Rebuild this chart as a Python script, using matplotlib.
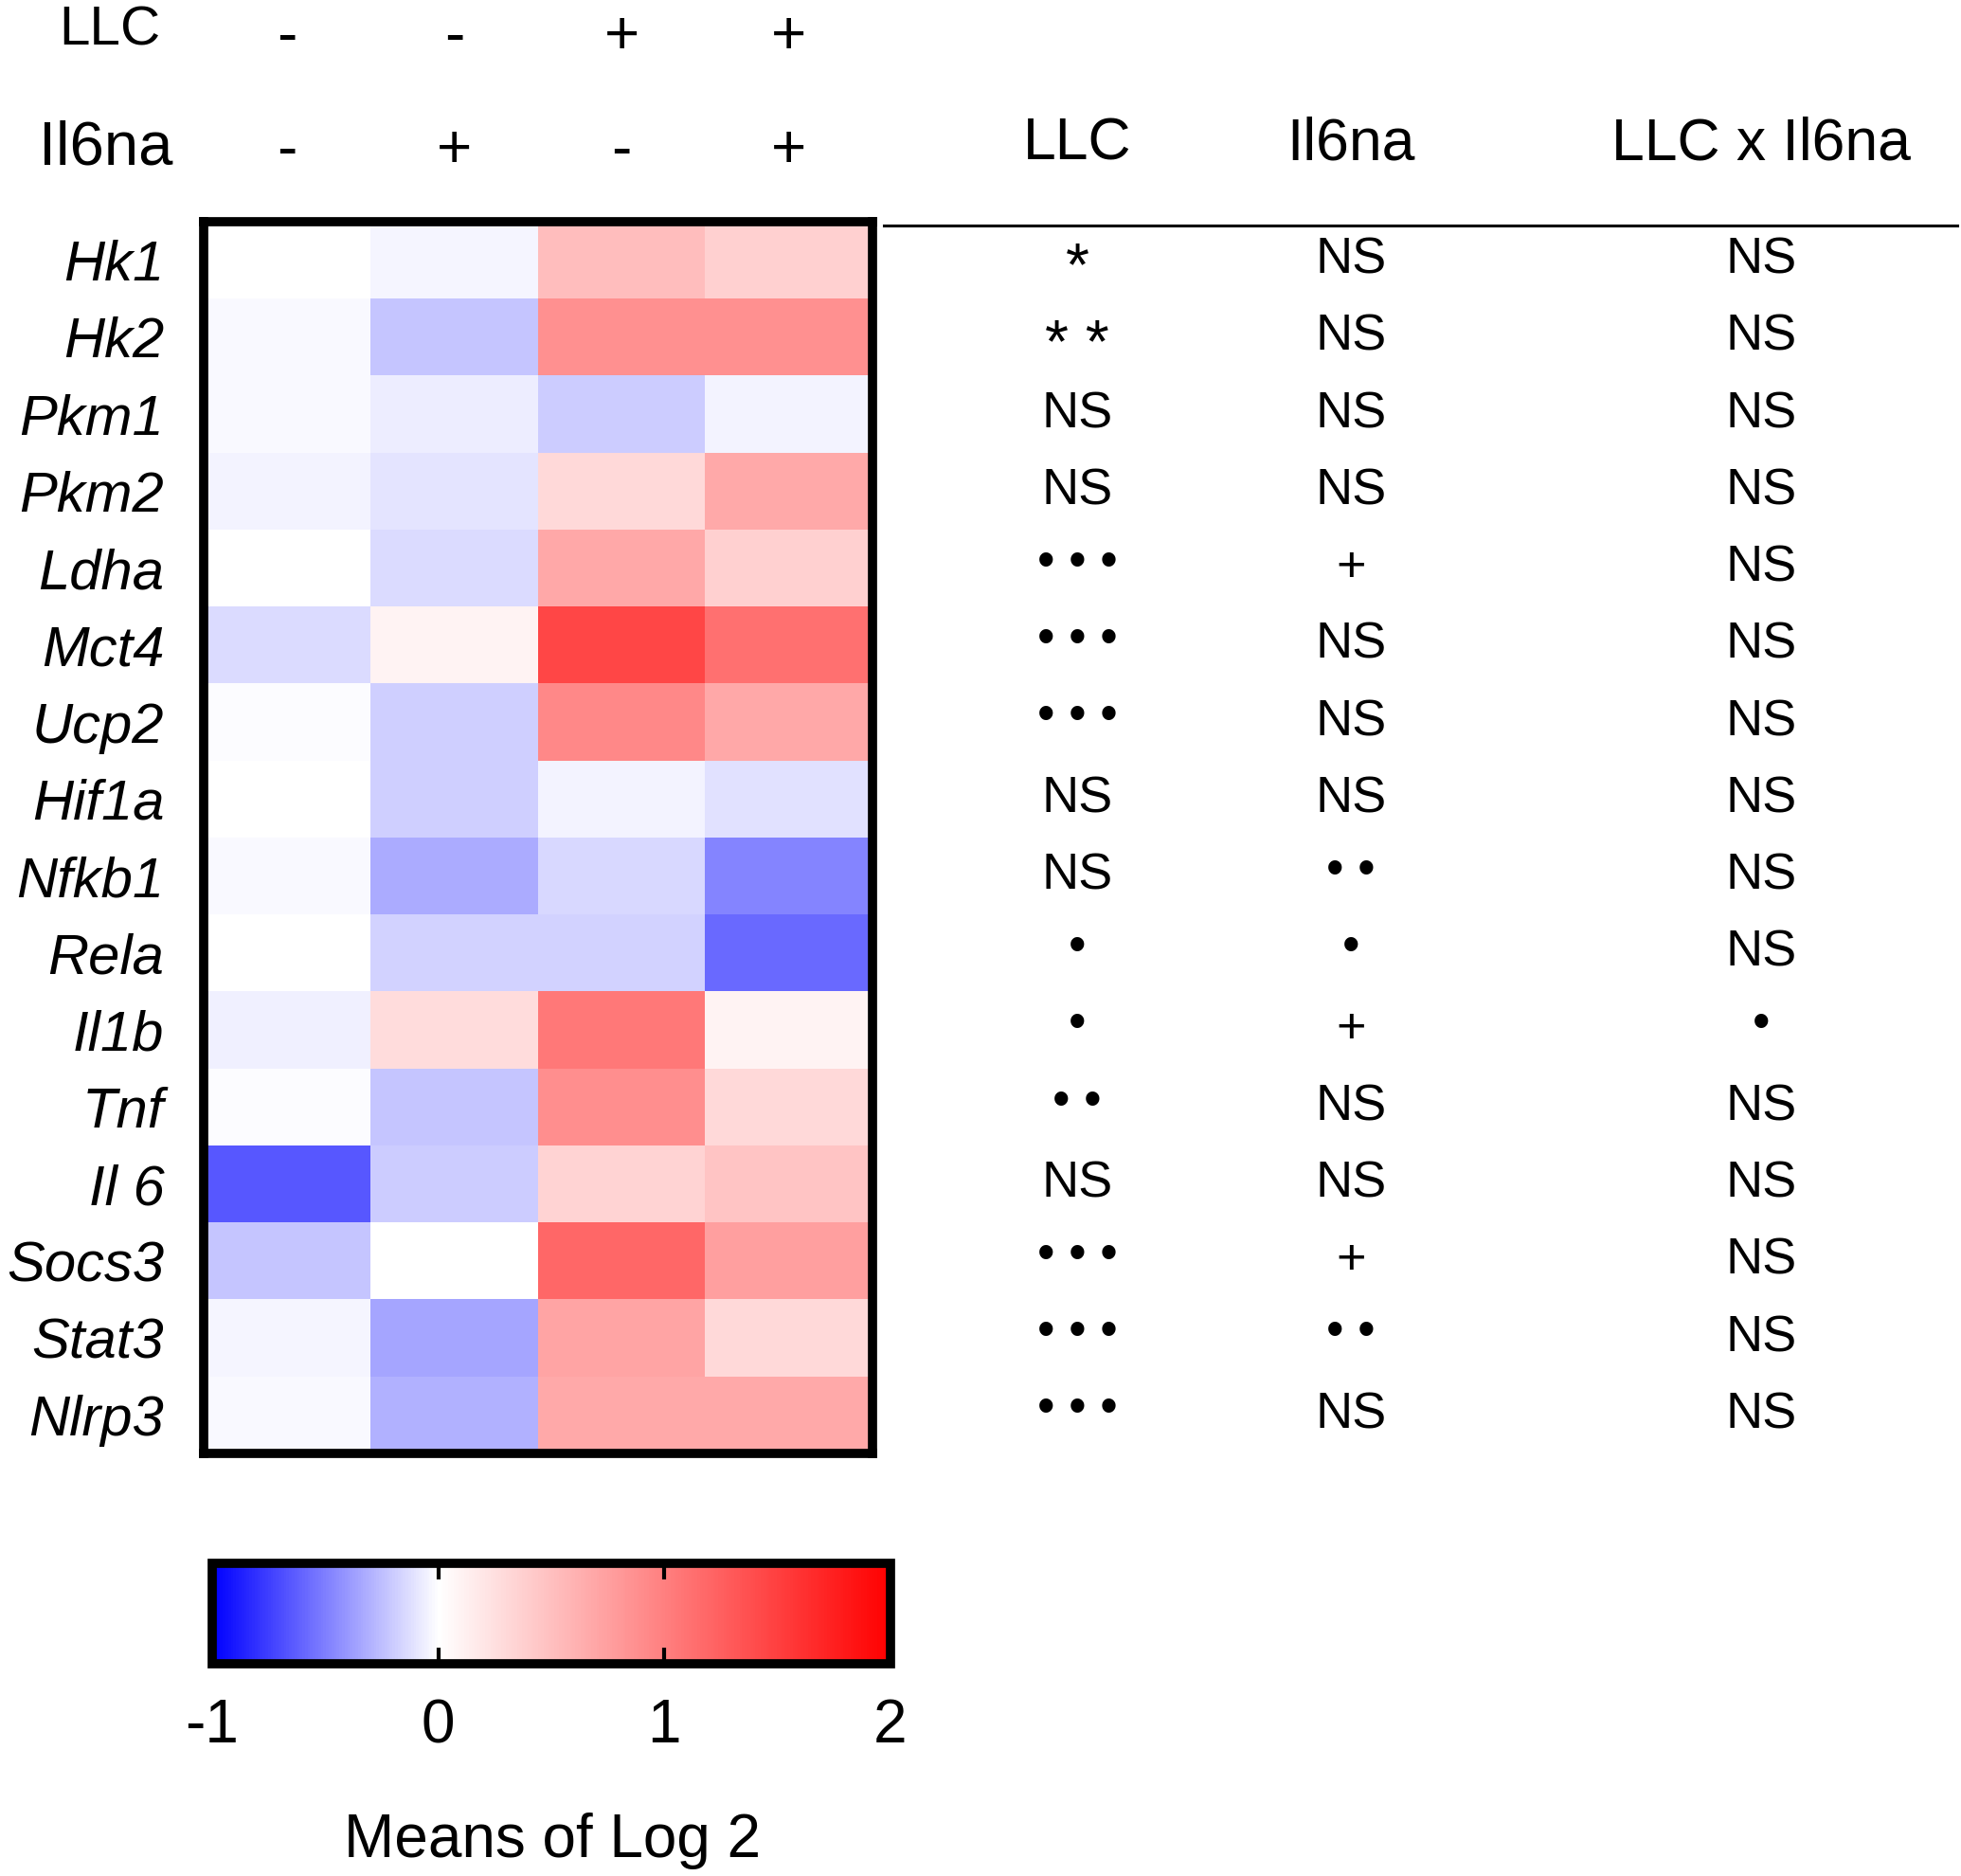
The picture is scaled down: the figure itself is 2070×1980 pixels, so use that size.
import matplotlib
matplotlib.use("Agg")
import matplotlib.pyplot as plt
import matplotlib.transforms as mtransforms
from matplotlib.colors import LinearSegmentedColormap
from matplotlib.lines import Line2D
import numpy as np

plt.rcParams['font.family'] = ['Liberation Sans', 'DejaVu Sans']
plt.rcParams['axes.unicode_minus'] = False

genes = ['Hk1', 'Hk2', 'Pkm1', 'Pkm2', 'Ldha', 'Mct4', 'Ucp2', 'Hif1a',
         'Nfkb1', 'Rela', 'Il1b', 'Tnf', 'Il 6', 'Socs3', 'Stat3', 'Nlrp3']

# means of log2 per group (columns of the heatmap)
ctrl      = [0.0, -0.02, -0.02, -0.05, 0.0, -0.14, -0.01, 0.0,
             -0.02, 0.0, -0.06, -0.01, -0.66, -0.22, -0.03, -0.02]
il6na     = [-0.03, -0.22, -0.07, -0.10, -0.14, 0.10, -0.18, -0.19,
             -0.33, -0.17, 0.27, -0.22, -0.20, 0.0, -0.35, -0.30]
llc       = [0.52, 0.87, -0.20, 0.29, 0.68, 1.44, 0.93, -0.05,
             -0.15, -0.17, 1.06, 0.88, 0.34, 1.18, 0.70, 0.67]
llc_il6na = [0.37, 0.87, -0.05, 0.67, 0.37, 1.12, 0.68, -0.12,
             -0.48, -0.58, 0.10, 0.30, 0.46, 0.75, 0.29, 0.67]

llc_signs = ['-', '-', '+', '+']
il6na_signs = ['-', '+', '-', '+']

stat_headers = ['LLC', 'Il6na', 'LLC x Il6na']
sig_llc = ['*', '**', 'NS', 'NS', '•••', '•••', '•••', 'NS',
           'NS', '•', '•', '••', 'NS', '•••', '•••', '•••']
sig_il6na = ['NS', 'NS', 'NS', 'NS', '+', 'NS', 'NS', 'NS',
             '••', '•', '+', 'NS', 'NS', '+', '••', 'NS']
sig_inter = ['NS', 'NS', 'NS', 'NS', 'NS', 'NS', 'NS', 'NS',
             'NS', 'NS', '•', 'NS', 'NS', 'NS', 'NS', 'NS']

cmap = LinearSegmentedColormap.from_list(
    'bwr_log2', [(0.0, '#0000ff'), (1/3, '#ffffff'), (1.0, '#ff0000')])

fig = plt.figure(figsize=(20.7, 19.8), dpi=100)
ax = fig.add_axes([215/2070, 1 - 1534/1980, 706/2070, 1300/1980])

data = np.column_stack([ctrl, il6na, llc, llc_il6na])
im = ax.imshow(data, cmap=cmap, vmin=-1, vmax=2, aspect='auto',
               interpolation='nearest')
ax.set_xticks([])
ax.set_yticks(range(len(genes)))
ax.set_yticklabels(genes, fontsize=43, style='italic')
ax.tick_params(axis='y', length=0, pad=30)
for sp in ax.spines.values():
    sp.set_linewidth(7)

# group design header (+/-)
hdr = mtransforms.blended_transform_factory(ax.transData, fig.transFigure)
fig.text(116/2070, 1 - 32/1980, 'LLC', fontsize=42, ha='center', va='center')
fig.text(112/2070, 1 - 156/1980, 'Il6na', fontsize=47, ha='center', va='center')
for i in range(4):
    ax.text(i, 1 - 40/1980, llc_signs[i], transform=hdr, fontsize=46,
            ha='center', va='center', clip_on=False)
    ax.text(i, 1 - 160/1980, il6na_signs[i], transform=hdr, fontsize=46,
            ha='center', va='center', clip_on=False)

# statistics table
col_x = [1137/2070, 1426/2070, 1859/2070]
for x, h in zip(col_x, stat_headers):
    fig.text(x, 1 - 152/1980, h, fontsize=45, ha='center', va='center')
fig.add_artist(Line2D([933/2070, 2066/2070], [1 - 238/1980, 1 - 238/1980],
                      color='black', linewidth=2.2))

tbl = mtransforms.blended_transform_factory(fig.transFigure, ax.transData)
for x, col in zip(col_x, [sig_llc, sig_il6na, sig_inter]):
    for r, s in enumerate(col):
        if s in ('NS', '+'):
            ax.text(x, r, s, transform=tbl, fontsize=39, ha='center',
                    va='center', clip_on=False)
        elif '*' in s:
            ax.text(x, r + 0.12, ' '.join(s), transform=tbl, fontsize=46,
                    ha='center', va='center', clip_on=False)
        else:
            ax.text(x, r - 0.06, ' '.join(s), transform=tbl, fontsize=38,
                    ha='center', va='center', clip_on=False)

# colour scale
cax = fig.add_axes([224/2070, 1 - 1756/1980, 716/2070, 106/1980])
cb = fig.colorbar(im, cax=cax, orientation='horizontal', ticks=[-1, 0, 1, 2])
cb.outline.set_linewidth(7)
cax.tick_params(direction='in', length=12, width=3, top=True, bottom=True,
                labelsize=46, pad=26)
fig.text(583/2070, 1 - 1943/1980, 'Means of Log 2', fontsize=46,
         ha='center', va='center')

fig.savefig('out.png', dpi=100)
